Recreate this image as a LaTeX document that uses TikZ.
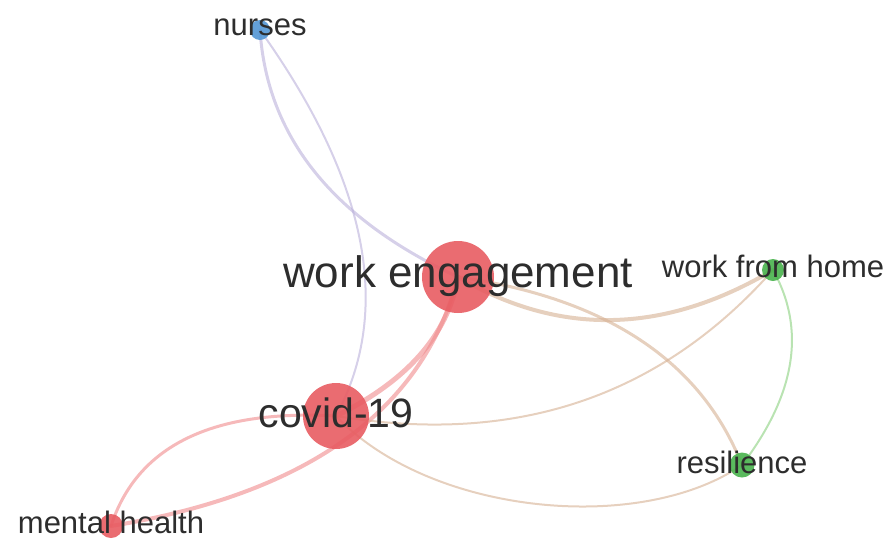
\documentclass[tikz,border=0pt]{standalone}
\usepackage{fontspec}
\setmainfont{Liberation Sans}
\usepackage{xcolor}
\usetikzlibrary{backgrounds}

\definecolor{clusterred}{RGB}{232,92,98}
\definecolor{clustergreen}{RGB}{72,178,76}
\definecolor{clusterblue}{RGB}{82,150,212}
\definecolor{redlink}{RGB}{240,138,140}
\definecolor{greenlink}{RGB}{138,208,126}
\definecolor{mixlink}{RGB}{214,176,146}
\definecolor{bluelink}{RGB}{186,176,218}
\definecolor{termgray}{RGB}{45,45,45}

\begin{document}
\begin{tikzpicture}[x=1pt, y=-1pt,
        bubble/.style = {circle, inner sep=0pt, fill opacity=.9},
        term/.style = {text=termgray, anchor=base, inner sep=0pt, font=\fontsize{31}{31}\selectfont},
        link/.style = {line cap=round, draw opacity=.6}
    ]
    \useasboundingbox (0,0) rectangle (894,539);
    % keywords
    \node[bubble, fill=clusterred, minimum size=72pt] (we) at (458,277) {};
    \node[bubble, fill=clusterred, minimum size=66pt] (covid) at (336,416) {};
    \node[bubble, fill=clusterblue, minimum size=20pt] (nurses) at (260,30) {};
    \node[bubble, fill=clustergreen, minimum size=22pt] (wfh) at (773,270) {};
    \node[bubble, fill=clustergreen, minimum size=25pt] (res) at (742,465) {};
    \node[bubble, fill=clusterred, minimum size=24pt] (mh) at (111,526) {};
    % labels
    \node[term, font=\fontsize{44}{44}\selectfont] (weText) at ([yshift=-10pt]we.center) {work engagement};
    \node[term, font=\fontsize{41}{41}\selectfont] (covidText) at ([yshift=-11pt]covid.center) {covid-19};
    \node[term] (nursesText) at ([yshift=-5pt]nurses.center) {nurses};
    \node[term] (wfhText) at ([yshift=-7pt]wfh.center) {work from home};
    \node[term] (resText) at ([yshift=-8pt]res.center) {resilience};
    \node[term] (mhText) at ([yshift=-7pt]mh.center) {mental health};
    % co-occurrence links
    \begin{scope}[on background layer]
        \draw[link, bluelink, line width=3pt] (nurses.center) .. controls (267,137) and (333,219) .. (we.center);
        \draw[link, bluelink, line width=2pt] (nurses.center) .. controls (368,181) and (393,310) .. (covid.center);
        \draw[link, redlink, line width=5pt] (we.center) .. controls (448,335) and (407,381) .. (covid.center);
        \draw[link, redlink, line width=3pt] (mh.center) .. controls (137,446) and (212,409) .. (covid.center);
        \draw[link, redlink, line width=4pt] (mh.center) .. controls (307,494) and (423,411) .. (we.center);
        \draw[link, mixlink, line width=2pt] (covid.center) .. controls (480,440) and (640,420) .. (wfh.center);
        \draw[link, mixlink, line width=2pt] (covid.center) .. controls (430,515) and (640,535) .. (res.center);
        \draw[link, mixlink, line width=4pt] (we.center) .. controls (560,337) and (665,334) .. (wfh.center);
        \draw[link, mixlink, line width=3pt] (we.center) .. controls (606,298) and (701,361) .. (res.center);
        \draw[link, greenlink, line width=2pt] (wfh.center) .. controls (806,329) and (796,394) .. (res.center);
    \end{scope}
\end{tikzpicture}
\end{document}
